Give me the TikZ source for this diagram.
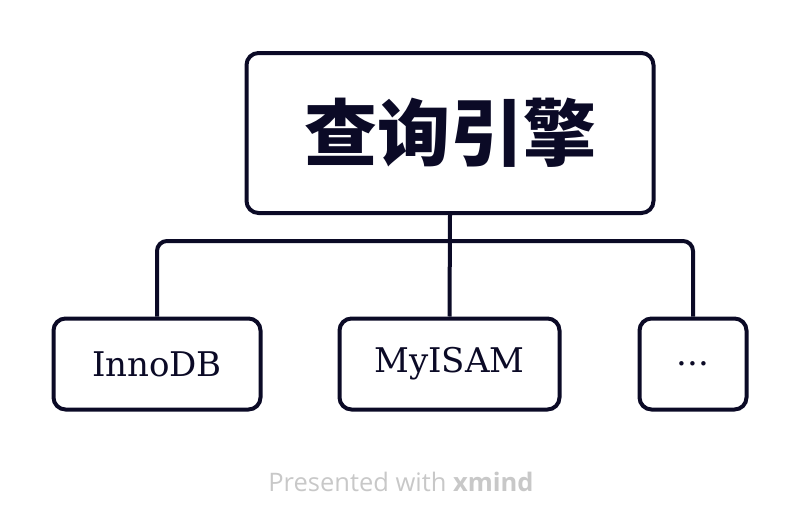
\documentclass[tikz,border=0pt]{standalone}
\usepackage{fontspec}
\setmainfont{DejaVu Serif}
\newfontfamily\cjk{Noto Sans CJK SC}
\newfontfamily\foot{Open Sans}
\definecolor{ink}{HTML}{0B0A26}
\definecolor{footgray}{HTML}{C8C8C8}
\newcommand{\moredots}{...}
\tikzset{
  topic/.style={draw=ink, line width=4pt, rounded corners=12pt,
    fill=white, inner sep=0pt},
  branch/.style={draw=ink, line width=4pt, rounded corners=10pt}
}

\begin{document}
\begin{tikzpicture}
  [x=1pt, y=-1pt]
    \useasboundingbox (0,0) rectangle (798,530);
    \node[topic, minimum width=407pt, minimum height=160pt,
      font=\cjk\bfseries\fontsize{73}{73}\selectfont, text=ink]
      (eng) at (450,133) {查询引擎};
    \foreach \num/\x/\w/\txt in {1/157/207/InnoDB,2/449.5/220/MyISAM,3/693/107/\moredots}{
      \node[topic, minimum width=\w pt, minimum height=91pt,
        font=\fontsize{34}{34}\selectfont, text=ink]
      (s\num) at (\x,364) {\txt};}
    \coordinate (bar) at (450,241);
    \draw[branch] (s1.north) |- (bar) -| (s3.north);
    \draw[branch, rounded corners=0pt] (eng.south) -- (s2.north);
    \node[font=\foot\fontsize{25.5}{25.5}\selectfont, text=footgray]
      (foot) at (401,482) {Presented with \textbf{xmind}};
  \end{tikzpicture}
\end{document}
